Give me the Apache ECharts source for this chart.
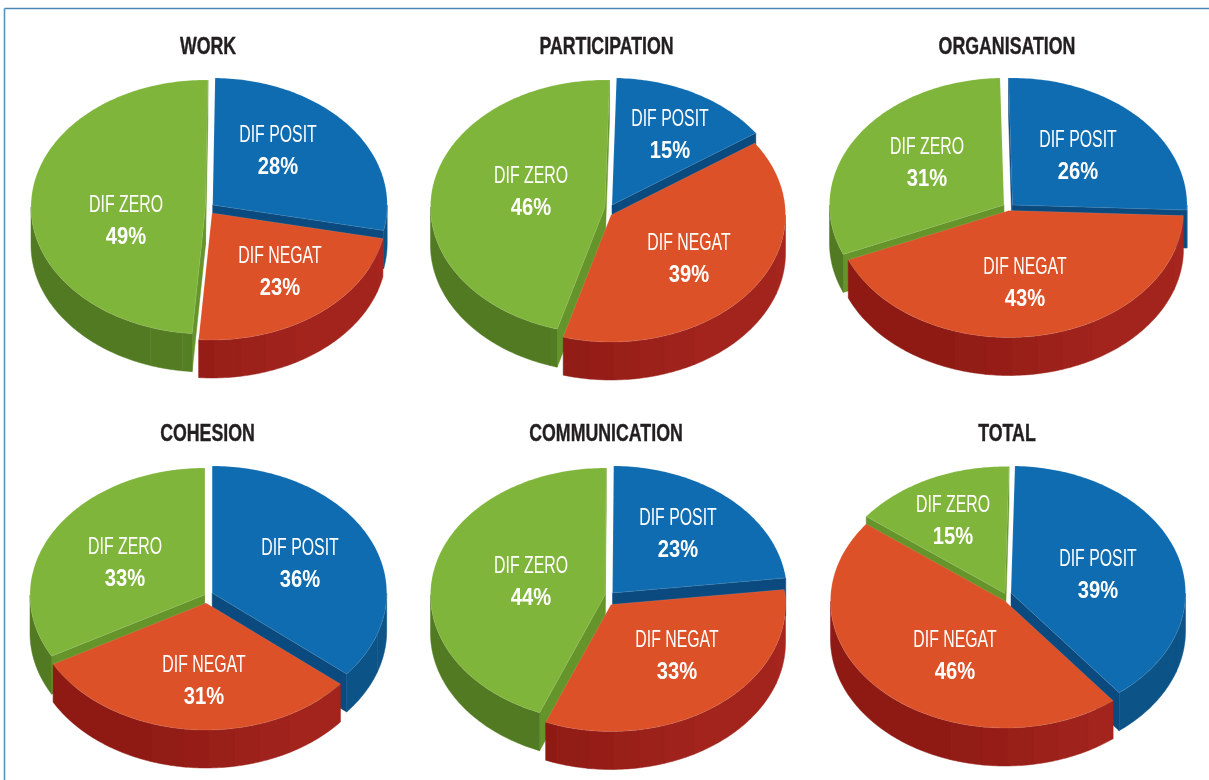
<!DOCTYPE html>
<html>
<head>
<meta charset="utf-8">
<style>html,body{margin:0;padding:0;background:#fff}#c{width:1209px;height:780px}</style>
<script src="https://cdn.jsdelivr.net/npm/echarts@6/dist/echarts.min.js"></script>
</head>
<body>
<div id="c"></div>
<script>
const categories = ['WORK', 'PARTICIPATION', 'ORGANISATION', 'COHESION', 'COMMUNICATION', 'TOTAL'];
const sliceNames = ['DIF POSIT', 'DIF NEGAT', 'DIF ZERO'];
const difPosit = [28, 15, 26, 36, 23, 39];
const difNegat = [23, 39, 43, 31, 33, 46];
const difZero  = [49, 46, 31, 33, 44, 15];

// layout of the exploded, tilted pies (not data)
const RX = 174.5, RY = 127, DEPTH = 38;
const titlePos = [[208,46],[606.5,46],[1007,46],[207.5,433],[606,433],[1007,433]];
const rotation = [0.8, 1.5, -1.3, 0, 0.4, 1.3];
const sliceCentres = [
  [[212.7,205],[212,213],[205.5,207]],
  [[612,205],[611,215],[605,207]],
  [[1012.5,205],[1009,210.5],[1004,205]],
  [[212.2,593],[206,603],[204.5,595]],
  [[612.5,593],[611,604.5],[605,595]],
  [[1011,593],[1005,601],[1005,593.5]]
];
const labelPos = [
  [[278,134],[280,255],[126,204]],
  [[670,118],[689,242],[531,175]],
  [[1078,139],[1025,266],[927,146]],
  [[300,547],[204,664],[125,546]],
  [[678,517],[677,639],[531,565]],
  [[1098,558],[955,639],[953,504]]
];
const topColor = ['#0f6cb0', '#dc5127', '#80b53b'];
const faceColor = ['#0a4a7e', '#8f1a14', '#65942b'];
const wallLeft = ['#0b5085', '#8f1a14', '#527a22'];
const wallRight = ['#0c5387', '#a6261f', '#5e8a27'];
const facetDx = [-55, -23, 2, 28, 53, 83, 165];

const FONT = '"Liberation Sans",sans-serif';
const rad = d => d * Math.PI / 180;
const hex = c => [1,3,5].map(i => parseInt(c.substr(i,2),16));
function mix(a, b, t) {
  const A = hex(a), B = hex(b);
  return 'rgb(' + A.map((v,i) => Math.round(v + (B[i]-v)*t)).join(',') + ')';
}
const rim = (c, deg, dz) => [c[0] + RX*Math.sin(rad(deg)), c[1] - RY*Math.cos(rad(deg)) + (dz||0)];
function arc(c, a, b, dz) {
  const n = Math.max(2, Math.ceil(Math.abs(b-a))), pts = [];
  for (let i = 0; i <= n; i++) pts.push(rim(c, a + (b-a)*i/n, dz));
  return pts;
}
// angle boundaries of the shaded wall facets, clockwise across the lower half of the rim
const facetAngles = [90].concat(facetDx.slice().reverse().map(d => 180 - Math.asin(d/RX)*180/Math.PI)).concat([270]);

const rows = [];
categories.forEach((_, p) => {
  const a = rotation[p];
  const b1 = a + difPosit[p]*3.6, b2 = b1 + difNegat[p]*3.6, b3 = b2 + difZero[p]*3.6;
  const spans = [[a,b1,difPosit[p]],[b1,b2,difNegat[p]],[b2,b3,difZero[p]]];
  [0,2,1].forEach(s => rows.push([p, s, spans[s][0], spans[s][1], spans[s][2]]));
});

function poly(points, fill, stroke, w) {
  return {type:'polygon', silent:true, shape:{points},
    style:{fill, stroke: stroke || fill, lineWidth: w === undefined ? 0.5 : w, lineJoin:'round'}};
}
function label(text, x, y, size, weight, sx) {
  return {type:'text', silent:true, x, y, scaleX:sx,
    style:{text, x:0, y:0, fill:'#fff', font: weight+' '+size+'px '+FONT,
           align:'center', verticalAlign:'middle', textAlign:'center', textVerticalAlign:'middle'}};
}
function renderItem(params, api) {
  const p = api.value(0), s = api.value(1), a = api.value(2), b = api.value(3), v = api.value(4);
  const c = sliceCentres[p][s], kids = [];
  const norm = d => ((d % 360) + 360) % 360;
  const down = [c[0], c[1] + DEPTH];
  // radial cut faces that turn toward the viewer
  if (norm(a) > 180) kids.push(poly([c, rim(c,a), rim(c,a,DEPTH), down], faceColor[s]));
  if (norm(b) < 180) kids.push(poly([c, rim(c,b), rim(c,b,DEPTH), down], faceColor[s]));
  // outer wall, one polygon per facet
  for (let i = 0; i < facetAngles.length-1; i++) {
    const lo = Math.max(facetAngles[i], a), hi = Math.min(facetAngles[i+1], b);
    if (hi <= lo) continue;
    const t = 1 - i/(facetAngles.length-2);
    const top = arc(c, lo, hi, 0), bot = arc(c, lo, hi, DEPTH).reverse();
    kids.push(poly(top.concat(bot), mix(wallLeft[s], wallRight[s], t)));
  }
  // top surface
  kids.push(poly([c].concat(arc(c,a,b,0)), topColor[s], 'rgba(255,255,255,0.18)', 0.6));
  const lp = labelPos[p][s];
  kids.push(label(sliceNames[s], lp[0], lp[1]+1.5, 24, 'normal', 0.66));
  kids.push(label(v + '%', lp[0], lp[1]+33, 24, 'bold', 0.84));
  return {type:'group', children:kids};
}

const chart = echarts.init(document.getElementById('c'));
chart.setOption({
  animation:false,
  backgroundColor:'#ffffff',
  graphic: [
    {type:'line', silent:true, shape:{x1:4.5,y1:8.5,x2:1209,y2:8.5}, style:{stroke:'#4c88b6',lineWidth:1.6}},
    {type:'line', silent:true, shape:{x1:4.5,y1:8.5,x2:4.5,y2:780}, style:{stroke:'#5b93bd',lineWidth:1.6}}
  ].concat(categories.map((t,i) => ({
    type:'text', silent:true, x:titlePos[i][0], y:titlePos[i][1]+1, scaleX:0.74,
    style:{text:t, x:0, y:0, fill:'#231f20', stroke:'#231f20', lineWidth:0.4,
           font:'bold 24px '+FONT, align:'center', verticalAlign:'middle',
           textAlign:'center', textVerticalAlign:'middle'}
  }))),
  series:[{type:'custom', coordinateSystem:'none', renderItem, data:rows, silent:true, clip:false}]
});
</script>
</body>
</html>
